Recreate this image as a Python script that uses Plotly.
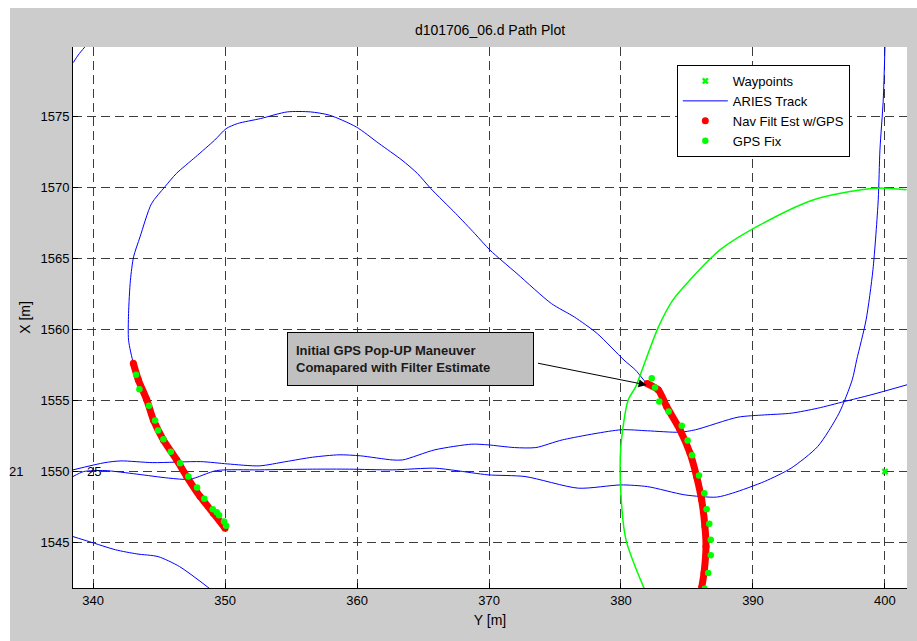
import plotly.graph_objects as go

# Axis convention of the plot: horizontal = Y [m], vertical = X [m]

# Waypoints
wp_y = [400.0]
wp_x = [1550.0]
wp_label_y = [334.17, 340.04]
wp_label_x = [1550.0, 1550.0]
wp_labels = ["21", "25"]

# ARIES track legs
leg_top_y = [338.50, 338.88, 339.39]
leg_top_x = [1578.80, 1579.34, 1579.92]

loop_y = [342.69, 342.69, 342.83, 343.07, 343.56, 344.43, 345.44, 346.31, 347.77,
          349.21, 350.08, 350.95, 352.69, 354.72, 356.46, 357.91, 359.94, 361.67,
          363.41, 364.58, 365.59, 367.48, 368.92, 370.08, 372.12, 374.73, 376.46,
          378.20, 380.23, 381.11]
loop_x = [1559.25, 1561.13, 1563.48, 1565.12, 1566.53, 1568.87, 1570.05, 1570.99,
          1572.16, 1573.34, 1574.15, 1574.51, 1574.86, 1575.33, 1575.33, 1575.10,
          1574.27, 1573.10, 1571.93, 1570.99, 1569.93, 1568.17, 1566.76, 1565.59,
          1563.94, 1561.83, 1560.89, 1559.72, 1557.85, 1557.14]

upper_y = [338.48, 340.90, 342.11, 344.53, 348.16, 350.17, 352.59, 354.61, 356.62,
           358.64, 360.24, 362.66, 363.47, 365.89, 368.70, 369.92, 371.93, 373.55,
           375.56, 379.99, 382.01, 384.42, 385.63, 388.86, 390.87, 392.89, 394.90,
           396.92, 398.93, 401.67]
upper_x = [1550.12, 1550.63, 1550.75, 1550.63, 1550.70, 1550.54, 1550.40, 1550.70,
           1551.01, 1551.18, 1551.11, 1550.82, 1550.82, 1551.53, 1551.93, 1551.88,
           1551.69, 1551.69, 1552.23, 1552.94, 1552.87, 1552.77, 1552.94, 1553.83,
           1553.99, 1554.11, 1554.46, 1554.93, 1555.40, 1556.11]

lower_y = [338.48, 339.29, 340.90, 343.32, 345.73, 347.35, 349.36, 352.59, 356.62,
           359.44, 362.66, 365.89, 367.50, 369.92, 372.73, 376.77, 379.99, 382.01,
           384.83, 387.24, 388.45, 390.87, 392.89, 394.90, 396.52, 397.52, 397.86,
           398.57, 399.09, 399.49, 399.62, 399.87, 400.00]
lower_x = [1549.65, 1550.00, 1550.07, 1549.82, 1549.54, 1549.46, 1550.07, 1550.12,
           1550.17, 1550.17, 1550.12, 1550.24, 1550.07, 1549.77, 1549.65, 1548.83,
           1549.06, 1548.94, 1548.36, 1548.20, 1548.48, 1549.30, 1550.24, 1551.76,
           1554.11, 1556.46, 1557.87, 1560.68, 1564.21, 1569.13, 1572.65, 1576.17,
           1579.90]

leg_low_y = [338.48, 339.70, 341.71, 343.32, 344.93, 346.55, 348.96]
leg_low_x = [1545.42, 1545.07, 1544.49, 1544.20, 1544.01, 1543.31, 1541.67]

# Navigation filter estimate with GPS
nav_left_y = [343.05, 343.43, 344.07, 344.57, 345.33, 346.34, 347.10, 348.11, 349.11, 350.00]
nav_left_x = [1557.63, 1556.46, 1555.05, 1553.64, 1552.23, 1550.82, 1549.65, 1548.24,
              1547.07, 1546.01]
nav_right_y = [381.97, 382.83, 383.46, 384.47, 385.23, 385.73, 386.11, 386.36, 386.44,
               386.29, 386.11]
nav_right_x = [1556.20, 1555.75, 1554.58, 1552.94, 1551.30, 1549.65, 1548.01, 1546.13,
               1544.72, 1542.85, 1541.81]

# GPS fixes
gps_y = [343.26, 343.51, 344.24, 344.70, 344.92, 345.33, 345.89, 346.59, 347.22, 347.88,
         348.43, 349.07, 349.37, 349.55, 349.92, 350.08,
         382.33, 382.58, 382.90, 383.61, 384.60, 385.05, 385.38, 385.91, 386.31, 386.49,
         386.69, 386.80, 386.80, 386.61, 386.34]
gps_x = [1556.81, 1555.80, 1554.63, 1553.59, 1552.89, 1552.28, 1551.39, 1550.59, 1549.65,
         1548.87, 1548.08, 1547.35, 1547.14, 1546.93, 1546.48, 1546.18,
         1556.58, 1555.92, 1554.93, 1554.23, 1553.22, 1552.18, 1551.15, 1549.72, 1548.48,
         1547.35, 1546.32, 1545.19, 1544.11, 1542.85, 1541.74]

# Waypoint acceptance arc
arc_y = [381.80, 380.38, 379.99, 379.99, 380.55, 381.11, 381.68, 382.84, 383.94, 385.23,
         387.50, 390.53, 394.55, 397.35, 399.37, 401.64]
arc_x = [1541.67, 1545.19, 1548.48, 1551.76, 1555.05, 1555.96, 1557.37, 1560.19, 1562.09,
         1563.50, 1565.61, 1567.37, 1569.13, 1569.72, 1569.96, 1569.84]

x_ticks = [340, 350, 360, 370, 380, 390, 400]
y_ticks = [1545, 1550, 1555, 1560, 1565, 1570, 1575]

X_RANGE = [338.48, 401.67]
Y_RANGE = [1541.8, 1579.9]

# Assemble the ARIES track as one trace with breaks between legs
track_y = (leg_top_y + [None]
           + nav_left_y[::-1] + loop_y + nav_right_y + [None]
           + upper_y + [None] + lower_y + [None] + leg_low_y)
track_x = (leg_top_x + [None]
           + nav_left_x[::-1] + loop_x + nav_right_x + [None]
           + upper_x + [None] + lower_x + [None] + leg_low_x)

nav_y = nav_left_y + [None] + nav_right_y
nav_x = nav_left_x + [None] + nav_right_x

FONT = "Liberation Sans, Arial, sans-serif"
BLUE, RED, GREEN = "#0000ff", "#ff0000", "#00ff00"

fig = go.Figure()

fig.add_trace(go.Scatter(x=track_y, y=track_x, mode="lines", name="ARIES Track",
                         line=dict(color=BLUE, width=1, shape="spline", smoothing=0.7),
                         legendrank=2))
fig.add_trace(go.Scatter(x=arc_y, y=arc_x, mode="lines", showlegend=False,
                         line=dict(color=GREEN, width=1.5, shape="spline", smoothing=0.8)))
fig.add_trace(go.Scatter(x=nav_y, y=nav_x, mode="lines", showlegend=False,
                         line=dict(color=RED, width=7, shape="spline", smoothing=0.6),
                         legendgroup="nav"))
fig.add_trace(go.Scatter(x=nav_y, y=nav_x, mode="markers", name="Nav Filt Est w/GPS",
                         marker=dict(color=RED, size=7), legendgroup="nav", legendrank=3))
fig.add_trace(go.Scatter(x=gps_y, y=gps_x, mode="markers", name="GPS Fix",
                         marker=dict(color=GREEN, size=6.5), legendrank=4))
fig.add_trace(go.Scatter(x=wp_y, y=wp_x, mode="markers", name="Waypoints",
                         marker=dict(color=GREEN, symbol="x", size=6), legendrank=1))

axis_common = dict(
    showline=True, linecolor="black", linewidth=1, mirror=False,
    ticks="inside", ticklen=5, tickcolor="black",
    showgrid=True, gridcolor="rgb(60,60,60)", gridwidth=1, griddash="9px,5px",
    zeroline=False, tickfont=dict(family=FONT, size=13, color="black"),
)

fig.update_layout(
    width=917, height=641, autosize=False,
    margin=dict(l=73, r=10, t=47, b=53, pad=0),
    paper_bgcolor="#cccccc", plot_bgcolor="white",
    font=dict(family=FONT, size=13, color="black"),
    title=dict(text="d101706_06.d Path Plot", x=0.5, xref="paper", xanchor="center",
               y=1 - 30 / 641, yref="container", yanchor="middle",
               font=dict(family=FONT, size=14, color="black")),
    xaxis=dict(range=X_RANGE, tickvals=x_ticks,
               title=dict(text="Y [m]", standoff=8, font=dict(size=14)), **axis_common),
    yaxis=dict(range=Y_RANGE, tickvals=y_ticks,
               title=dict(text="X [m]", standoff=6, font=dict(size=14)), **axis_common),
    legend=dict(x=0.724, y=0.9667, xanchor="left", yanchor="top",
                bgcolor="white", bordercolor="black", borderwidth=1,
                font=dict(family=FONT, size=13, color="black"),
                itemwidth=45, tracegroupgap=0),
    showlegend=True,
)

# White strips framing the grey figure window
fig.add_shape(type="rect", xref="paper", yref="paper", x0=-0.2, x1=(10 - 73) / 834,
              y0=-0.3, y1=1.3, fillcolor="white", line_width=0, layer="below")
fig.add_shape(type="rect", xref="paper", yref="paper", x0=-0.2, x1=1.2,
              y0=1 + (47 - 8) / 541, y1=1.3, fillcolor="white", line_width=0, layer="below")

# Waypoint number labels (placed in paper space horizontally so they are not hidden
# when they fall left of the axis range)
for wy, wx, lab in zip(wp_label_y, wp_label_x, wp_labels):
    fig.add_annotation(
        x=(wy - X_RANGE[0]) / (X_RANGE[1] - X_RANGE[0]), xref="paper",
        y=wx, yref="y", text=lab, showarrow=False,
        xanchor="center", yanchor="middle",
        font=dict(family=FONT, size=13, color="black"),
    )

# Callout box and arrow
fig.add_annotation(
    x=364.05, y=1557.94, xref="x", yref="y", xanchor="center", yanchor="middle",
    text="<b>Initial GPS Pop-UP Maneuver<br>Comapared with Filter Estimate</b>",
    showarrow=False, align="left", width=229, height=36, borderpad=8,
    bgcolor="#c0c0c0", bordercolor="black", borderwidth=1,
    font=dict(family=FONT, size=13, color="#1a1a1a"),
)
fig.add_annotation(
    x=381.94, y=1556.1, ax=373.6, ay=1557.65, xref="x", yref="y", axref="x", ayref="y",
    text="", showarrow=True, arrowhead=2, arrowsize=1.6, arrowwidth=1, arrowcolor="black",
    standoff=0,
)

fig.write_html("out.html")
